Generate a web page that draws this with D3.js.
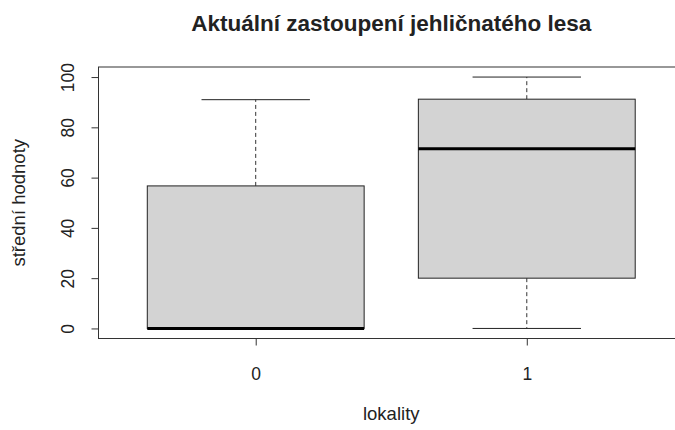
<!DOCTYPE html>
<html>
<head>
<meta charset="utf-8">
<script src="https://cdn.jsdelivr.net/npm/d3@7"></script>
<style>
  body { margin: 0; background: #fff; }
  svg text { font-family: "Liberation Sans", Arial, sans-serif; fill: #222; }
</style>
</head>
<body>
<svg id="canvas" width="675" height="430"></svg>
<script>
// boxplot stats per locality
const categories = ["0", "1"];
const whiskerLow = [0, 0];
const q1 = [0, 20];
const median = [0, 71.5];
const q3 = [56.7, 91.2];
const whiskerHigh = [91, 100];
const yTicks = [0, 20, 40, 60, 80, 100];

let canvas = d3.select('#canvas')

// R style: xlim 0.5..2.5 and ylim 0..100, each widened by 4%
let xScale = d3.scaleLinear().domain([0.42, 2.58]).range([98.5, 684])
let yScale = d3.scaleLinear().domain([-4, 104]).range([338.5, 67])

let boxes = categories.map((c, i) => ({
    cat: c, pos: i + 1,
    lo: whiskerLow[i], q1: q1[i], med: median[i], q3: q3[i], hi: whiskerHigh[i]
}))

let halfBox = (xScale(1.4) - xScale(1)) // boxwex 0.8
let halfCap = halfBox / 2

let g = canvas.selectAll('g.box')
    .data(boxes)
    .enter()
    .append('g')
    .attr('class', 'box')

// dashed whiskers
g.append('line')
    .attr('x1', d => xScale(d.pos)).attr('x2', d => xScale(d.pos))
    .attr('y1', d => yScale(d.q3)).attr('y2', d => yScale(d.hi))
    .attr('stroke', '#333').attr('stroke-dasharray', '4,3')
g.append('line')
    .attr('x1', d => xScale(d.pos)).attr('x2', d => xScale(d.pos))
    .attr('y1', d => yScale(d.q1)).attr('y2', d => yScale(d.lo))
    .attr('stroke', '#333').attr('stroke-dasharray', '4,3')

// caps
g.append('line')
    .attr('x1', d => xScale(d.pos) - halfCap).attr('x2', d => xScale(d.pos) + halfCap)
    .attr('y1', d => yScale(d.hi)).attr('y2', d => yScale(d.hi))
    .attr('stroke', '#222')
g.append('line')
    .attr('x1', d => xScale(d.pos) - halfCap).attr('x2', d => xScale(d.pos) + halfCap)
    .attr('y1', d => yScale(d.lo)).attr('y2', d => yScale(d.lo))
    .attr('stroke', '#222')

// box
g.append('rect')
    .attr('x', d => xScale(d.pos) - halfBox)
    .attr('y', d => yScale(d.q3))
    .attr('width', halfBox * 2)
    .attr('height', d => yScale(d.q1) - yScale(d.q3))
    .attr('fill', '#d3d3d3')
    .attr('stroke', '#222')

// median
g.append('line')
    .attr('x1', d => xScale(d.pos) - halfBox).attr('x2', d => xScale(d.pos) + halfBox)
    .attr('y1', d => yScale(d.med)).attr('y2', d => yScale(d.med))
    .attr('stroke', '#000').attr('stroke-width', 3)

// plot frame
canvas.append('rect')
    .attr('x', xScale.range()[0]).attr('y', yScale.range()[1])
    .attr('width', xScale.range()[1] - xScale.range()[0])
    .attr('height', yScale.range()[0] - yScale.range()[1])
    .attr('fill', 'none').attr('stroke', '#333')

// y axis
let yAxis = canvas.append('g')
    .attr('transform', 'translate(' + xScale.range()[0] + ',0)')
    .call(d3.axisLeft(yScale).tickValues(yTicks).tickSize(7).tickSizeOuter(0))
yAxis.select('.domain').remove()
yAxis.selectAll('line').attr('stroke', '#333')
yAxis.selectAll('text')
    .attr('font-size', 17.5).attr('fill', '#222')
    .attr('text-anchor', 'middle')
    .attr('transform', 'rotate(-90)')
    .attr('x', 0)
    .attr('y', -25)
    .attr('dy', 0)

// x axis
let xAxis = canvas.append('g')
    .attr('transform', 'translate(0,' + yScale.range()[0] + ')')
    .call(d3.axisBottom(xScale).tickValues([1, 2]).tickFormat((d, i) => categories[i]).tickSize(7).tickSizeOuter(0))
xAxis.select('.domain').remove()
xAxis.selectAll('line').attr('stroke', '#333')
xAxis.selectAll('text').attr('font-size', 17.5).attr('fill', '#222').attr('y', 41.5).attr('dy', 0)

// titles
let midX = (xScale.range()[0] + xScale.range()[1]) / 2
canvas.append('text')
    .attr('x', midX).attr('y', 31)
    .attr('text-anchor', 'middle')
    .attr('font-weight', 'bold').attr('font-size', 22.5).attr('fill', '#000')
    .text('Aktuální zastoupení jehličnatého lesa')

canvas.append('text')
    .attr('x', midX).attr('y', 420)
    .attr('text-anchor', 'middle')
    .attr('font-size', 18.5)
    .text('lokality')

canvas.append('text')
    .attr('transform', 'translate(25,' + (yScale.range()[0] + yScale.range()[1]) / 2 + ') rotate(-90)')
    .attr('text-anchor', 'middle')
    .attr('font-size', 18.5)
    .text('střední hodnoty')
</script>
</body>
</html>
